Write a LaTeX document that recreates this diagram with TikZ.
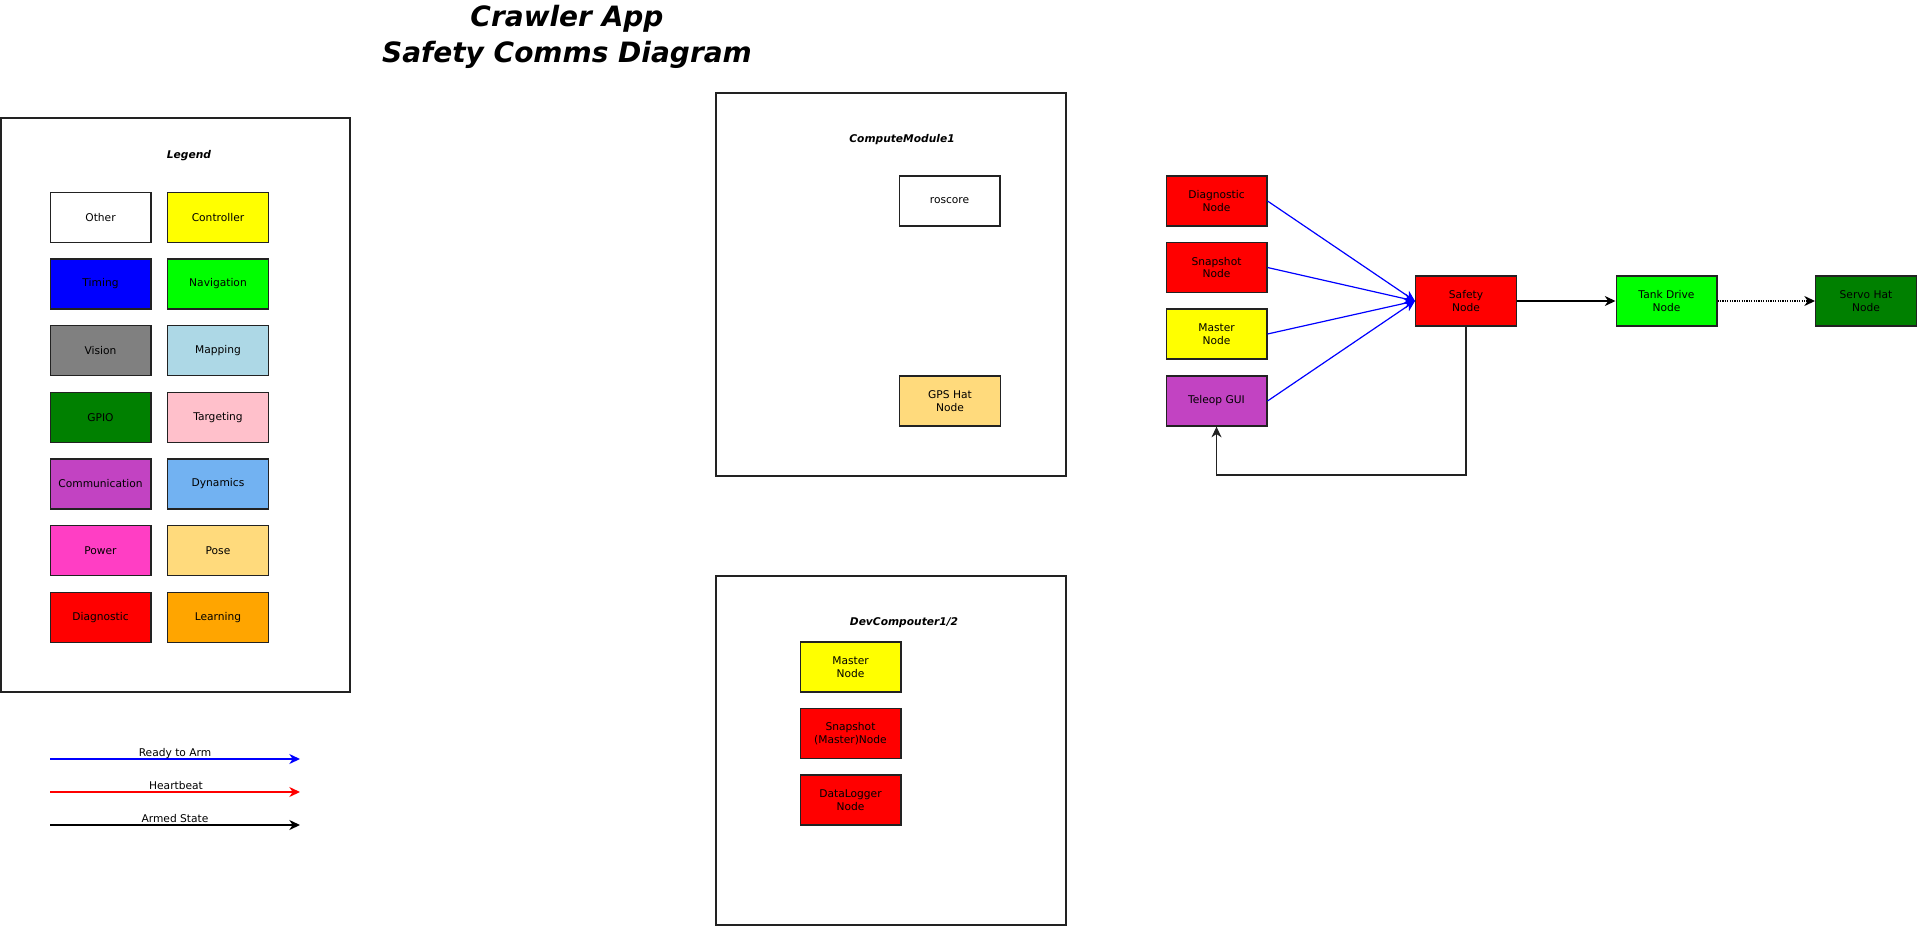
\documentclass[tikz,border=0pt]{standalone}
\usepackage{fontspec}
\setmainfont{DejaVu Sans}
\usetikzlibrary{arrows.meta}
\definecolor{cComm}{HTML}{C243C2}
\definecolor{cDyn}{HTML}{72B2F2}
\definecolor{cPower}{HTML}{FF3EC4}
\definecolor{cPose}{HTML}{FFDA7C}
\definecolor{cMap}{HTML}{ADD8E6}
\definecolor{cPink}{HTML}{FFC0CB}
\definecolor{cGreen}{HTML}{008000}
\definecolor{cLime}{HTML}{00FF00}
\definecolor{cOrange}{HTML}{FFA500}
\definecolor{cYellow}{HTML}{FFFF00}
\definecolor{cBorder}{HTML}{222222}
\tikzset{
  nodebox/.style={draw=cBorder, line width=1pt, inner sep=0pt, minimum width=75.5pt, minimum height=37.5pt,
     align=center, font=\fontsize{8}{9.7}\selectfont},
  container/.style={draw=cBorder, line width=1pt},
  ctitle/.style={font=\fontsize{8}{9.7}\selectfont\bfseries\itshape, inner sep=0pt},
  arr/.style={-{Stealth[length=8pt,width=7.5pt,inset=2.5pt]}},
  blueflow/.style={arr, draw=blue, line width=0.9pt},
  blackflow/.style={arr, draw=black, line width=1pt},
  legtext/.style={font=\fontsize{8}{9.7}\selectfont, inner sep=0pt, anchor=base},
}
\begin{document}
\begin{tikzpicture}[x=0.75pt,y=-0.75pt]
\useasboundingbox (0,0) rectangle (1920,928);
% Title
\node[align=center, font=\fontsize{21}{26.5}\selectfont\bfseries\itshape, inner sep=0pt] (title) at (567,37) {Crawler App\\Safety Comms Diagram};

% Legend container
\draw[container] (1,118) rectangle (350,692);
\node[ctitle] (legtitle) at (189,156) {Legend};
\node[nodebox, fill=white] (lOther) at (100.5,217.5) {Other};
\node[nodebox, fill=cYellow] (lCtrl) at (218,217.5) {Controller};
\node[nodebox, fill=blue] (lTiming) at (100.5,284) {Timing};
\node[nodebox, fill=cLime] (lNav) at (218,284) {Navigation};
\node[nodebox, fill=gray] (lVision) at (100.5,350.5) {Vision};
\node[nodebox, fill=cMap] (lMap) at (218,350.5) {Mapping};
\node[nodebox, fill=cGreen] (lGPIO) at (100.5,417.5) {GPIO};
\node[nodebox, fill=cPink] (lTarget) at (218,417.5) {Targeting};
\node[nodebox, fill=cComm] (lComm) at (100.5,484) {Communication};
\node[nodebox, fill=cDyn] (lDyn) at (218,484) {Dynamics};
\node[nodebox, fill=cPower] (lPower) at (100.5,550.5) {Power};
\node[nodebox, fill=cPose] (lPose) at (218,550.5) {Pose};
\node[nodebox, fill=red] (lDiag) at (100.5,617.5) {Diagnostic};
\node[nodebox, fill=cOrange] (lLearn) at (218,617.5) {Learning};

% Legend arrows
\coordinate (rA) at (50,759); \coordinate (rB) at (300,759);
\coordinate (hA) at (50,792); \coordinate (hB) at (300,792);
\coordinate (aA) at (50,825); \coordinate (aB) at (300,825);
\draw[arr, draw=blue, line width=1.1pt] (rA) -- (rB);
\draw[arr, draw=red, line width=1.1pt] (hA) -- (hB);
\draw[arr, draw=black, line width=1.1pt] (aA) -- (aB);
\node[legtext] (tReady) at (175,756) {Ready to Arm};
\node[legtext] (tHeart) at (176,789) {Heartbeat};
\node[legtext] (tArmed) at (175,822) {Armed State};

% ComputeModule1
\draw[container] (716,93) rectangle (1066,476);
\node[ctitle] (cmtitle) at (902,140) {ComputeModule1};
\node[nodebox, fill=white] (roscore) at (949.5,201) {roscore};
\node[nodebox, fill=cPose] (gps) at (950,401) {GPS Hat\\Node};

% DevCompouter
\draw[container] (716,576) rectangle (1066,925);
\node[ctitle] (dvtitle) at (904,623) {DevCompouter1/2};
\node[nodebox, fill=cYellow] (dmaster) at (850.5,667) {Master\\Node};
\node[nodebox, fill=red] (dsnap) at (850.5,733.5) {Snapshot\\(Master)Node};
\node[nodebox, fill=red] (dlog) at (850.5,800) {DataLogger\\Node};

% Right side
\node[nodebox, fill=red] (diag) at (1216.5,201) {Diagnostic\\Node};
\node[nodebox, fill=red] (snap) at (1216.5,267.5) {Snapshot\\Node};
\node[nodebox, fill=cYellow] (master) at (1216.5,334) {Master\\Node};
\node[nodebox, fill=cComm] (teleop) at (1216.5,401) {Teleop GUI};
\node[nodebox, fill=red] (safety) at (1466,301) {Safety\\Node};
\node[nodebox, fill=cLime] (tank) at (1666.5,301) {Tank Drive\\Node};
\node[nodebox, fill=cGreen] (servo) at (1866,301) {Servo Hat\\Node};

\draw[blueflow] (diag.east) -- (safety.west);
\draw[blueflow] (snap.east) -- (safety.west);
\draw[blueflow] (master.east) -- (safety.west);
\draw[blueflow] (teleop.east) -- (safety.west);
\draw[blackflow] (safety.east) -- (tank.west);
\draw[blackflow, dash pattern=on 1pt off 0.8pt] (tank.east) -- (servo.west);
\coordinate (fb) at (1466,475);
\draw[arr, draw=cBorder, line width=0.9pt] (safety.south) -- (fb) -| (teleop.south);
\end{tikzpicture}
\end{document}
